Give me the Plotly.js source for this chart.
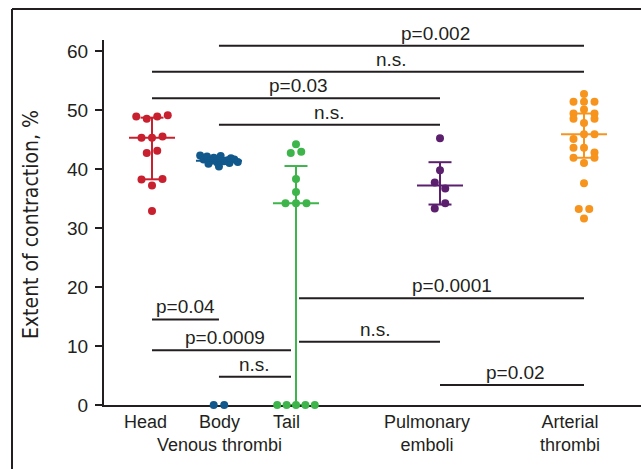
<!DOCTYPE html>
<html><head><meta charset="utf-8">
<script src="https://cdn.plot.ly/plotly-3.0.1.min.js"></script>
<style>html,body{margin:0;padding:0;background:#fff}#chart{width:641px;height:469px}</style>
</head><body><div id="chart"></div>
<script>
// ---------- data ----------
const groups = ['Head', 'Body', 'Tail', 'Pulmonary', 'Arterial'];
const groupLabels = ['Head', 'Body<br>Venous thrombi', 'Tail', 'Pulmonary<br>emboli', 'Arterial<br>thrombi'];
const headValues = [48.9, 48.5, 48.9, 49.1, 45.3, 45.3, 45.5, 42.7, 43.1, 38.2, 37.2, 38.3, 32.9];
const bodyValues = [42.3, 41.6, 42.1, 41.4, 41.9, 41.1, 42.2, 41.3, 41.5, 40.9, 41.8, 40.4, 41.6, 41.2, 41.0, 0, 0];
const tailValues = [44.2, 42.7, 42.9, 38.3, 36.1, 34.2, 34.2, 34.2, 0, 0, 0, 0, 0];
const pulmonaryValues = [45.2, 39.8, 37.7, 36.7, 33.3, 34.2];
const arterialValues = [52.7, 51.4, 51.4, 51.4, 49.4, 50.1, 49.4, 48.5, 47.8, 48.5, 45.1, 45.9, 45.9, 43.6, 43.6, 42.8, 41.9, 41.0, 41.9, 37.6, 33.2, 33.2, 31.6];
const yTickVals = [0, 10, 20, 30, 40, 50, 60];
const yTitle = 'Extent of contraction, %';
// significance comparisons (group index from / to, bar level, label)
const compFrom = [1, 0, 0, 1, 2, 0, 2, 0, 1, 3];
const compTo = [4, 4, 3, 3, 4, 1, 3, 2, 2, 4];
const compLevel = [60.9, 56.5, 52.0, 47.5, 18.1, 14.5, 10.7, 9.3, 4.8, 3.4];
const compLabels = ['p=0.002', 'n.s.', 'p=0.03', 'n.s.', 'p=0.0001', 'p=0.04', 'n.s.', 'p=0.0009', 'n.s.', 'p=0.02'];

// ---------- layout / style ----------
const allValues = [headValues, bodyValues, tailValues, pulmonaryValues, arterialValues];
const groupPos = [1, 1.93, 3, 5, 7];
const colors = ['#c8202f', '#11598c', '#3db54a', '#5b1f6e', '#f7941d'];
const labelShift = [-7, 1, -10, -13, -14];
const compLabelShift = [34, 23, 2, 0, 10, 0, 6, 3, 0, 3];
const W = 641, H = 469, M = {l: 104, r: 0, t: 40, b: 64};
const xRange = [0.3333, 7.7917], yRange = [0, 61.86];
const pxPerX = (W - M.l - M.r) / (xRange[1] - xRange[0]);
const ink = '#231f20';
const FONT = '"Liberation Sans", Arial, Helvetica, sans-serif';

const dotStep = 10.5 / pxPerX, maxHalf = 18.8 / pxPerX, rowTol = 1.25;
function swarm(vals, center) {
  const idx = vals.map((v, i) => i).sort((a, b) => vals[b] - vals[a] || a - b);
  const xs = new Array(vals.length);
  let i = 0;
  while (i < idx.length) {
    const start = vals[idx[i]];
    const row = [];
    while (i < idx.length && start - vals[idx[i]] <= rowTol + 1e-9) { row.push(idx[i]); i++; }
    row.sort((a, b) => a - b);
    const n = row.length;
    let step = dotStep;
    if (n > 1 && (n - 1) * step / 2 > maxHalf) step = 2 * maxHalf / (n - 1);
    row.forEach((k, j) => { xs[k] = center + (j - (n - 1) / 2) * step; });
  }
  return xs;
}
function quant(vals, p) {
  const s = [...vals].sort((a, b) => a - b), n = s.length;
  const pos = (n + 1) * p;
  if (pos <= 1) return s[0];
  if (pos >= n) return s[n - 1];
  const lo = Math.floor(pos), f = pos - lo;
  return s[lo - 1] + f * (s[lo] - s[lo - 1]);
}

const traces = [];
const medHalf = 23 / pxPerX, capHalf = 11.5 / pxPerX;
allValues.forEach((vals, g) => {
  const c = groupPos[g];
  traces.push({
    type: 'scatter', mode: 'markers', name: groups[g],
    x: swarm(vals, c), y: vals, cliponaxis: false, hoverinfo: 'y',
    marker: {size: 8, color: colors[g], line: {width: 0}}
  });
  const q1 = quant(vals, 0.25), med = quant(vals, 0.5), q3 = quant(vals, 0.75);
  traces.push({
    type: 'scatter', mode: 'lines', name: groups[g] + ' median', cliponaxis: false, hoverinfo: 'skip',
    x: [c, c, null, c - medHalf, c + medHalf, null, c - capHalf, c + capHalf, null, c - capHalf, c + capHalf],
    y: [q1, q3, null, med, med, null, q3, q3, null, q1, q1],
    line: {color: colors[g], width: 2}
  });
});

const shapes = [];
const annotations = [];
const tailGapL = 5 / pxPerX, tailGapR = 3 / pxPerX;
compFrom.forEach((f, i) => {
  let x0 = groupPos[f], x1 = groupPos[compTo[i]];
  if (f === 2) x0 += tailGapR;
  if (compTo[i] === 2) x1 -= tailGapL;
  shapes.push({type: 'line', xref: 'x', yref: 'y', x0: x0, x1: x1, y0: compLevel[i], y1: compLevel[i],
    line: {color: ink, width: 2}});
  annotations.push({xref: 'x', yref: 'y', x: (x0 + x1) / 2, y: compLevel[i], xanchor: 'center', yanchor: 'bottom',
    xshift: compLabelShift[i], yshift: 0, showarrow: false, text: compLabels[i],
    font: {family: FONT, size: 19, color: ink}});
});
groupLabels.forEach((t, g) => {
  annotations.push({xref: 'x', yref: 'paper', x: groupPos[g], y: 0, xanchor: 'center', yanchor: 'top',
    xshift: labelShift[g], yshift: -5, showarrow: false, text: t,
    font: {family: FONT, size: 18, color: ink}});
});
const plotH = H - M.t - M.b, plotW = W - M.l - M.r;
annotations.push({xref: 'paper', yref: 'paper', x: (31 - M.l) / plotW, y: (H - M.b - 225) / plotH,
  xanchor: 'center', yanchor: 'middle', textangle: -90, showarrow: false, text: yTitle,
  font: {family: '"Liberation Sans Narrow", "DejaVu Sans Condensed", "Roboto Condensed", sans-serif', size: 21, color: ink}});
// frame (left and top edges)
const fx = (12 - M.l) / plotW, fy = (H - M.b - 9) / plotH;
shapes.push({type: 'line', xref: 'paper', yref: 'paper', x0: fx, x1: fx, y0: -0.3, y1: fy, line: {color: ink, width: 2}});
shapes.push({type: 'line', xref: 'paper', yref: 'paper', x0: fx, x1: 1.05, y0: fy, y1: fy, line: {color: ink, width: 2}});

const layout = {
  width: W, height: H, margin: M, showlegend: false,
  paper_bgcolor: '#fff', plot_bgcolor: '#fff',
  font: {family: FONT, color: ink, size: 19},
  xaxis: {range: xRange, showgrid: false, zeroline: false, showline: true, linecolor: ink, linewidth: 2,
    showticklabels: false, ticks: '', layer: 'below traces', fixedrange: true},
  yaxis: {range: yRange, showgrid: false, zeroline: false, showline: true, linecolor: ink, linewidth: 2,
    tickvals: yTickVals, ticks: 'outside', ticklen: 7, tickwidth: 2, tickcolor: ink, ticklabelstandoff: 3,
    tickfont: {family: FONT, size: 19, color: ink}, layer: 'below traces', fixedrange: true},
  shapes: shapes, annotations: annotations
};
Plotly.newPlot('chart', traces, layout, {displayModeBar: false, staticPlot: true});
</script></body></html>
